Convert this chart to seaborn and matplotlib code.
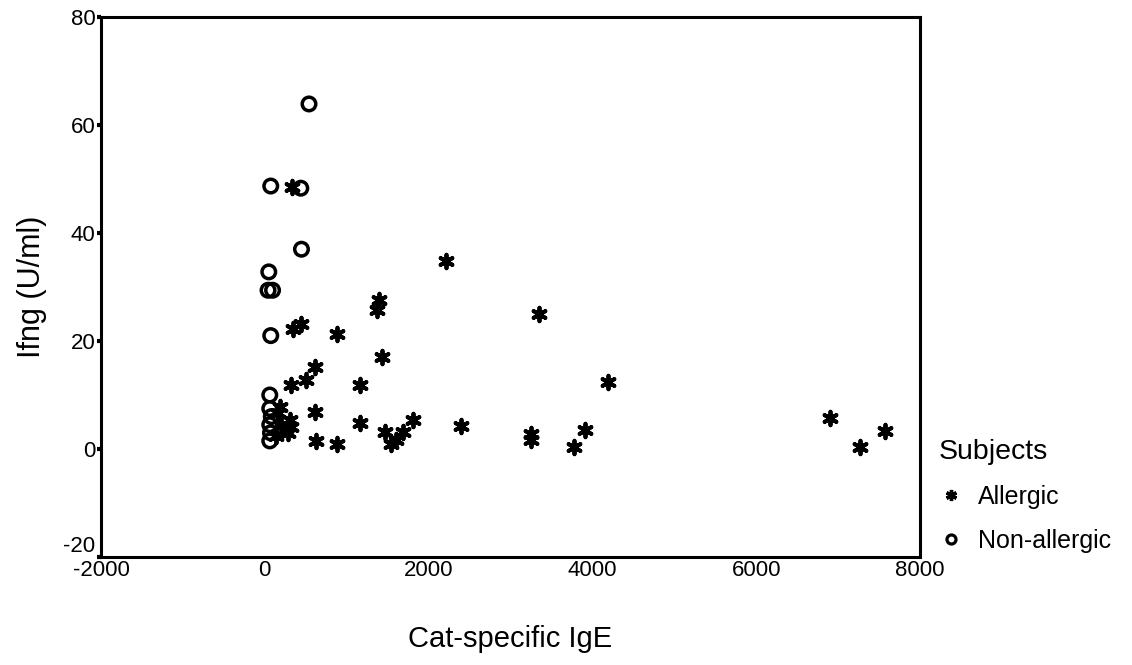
import numpy as np
import pandas as pd
import matplotlib
matplotlib.use("Agg")
import matplotlib.pyplot as plt
import seaborn as sns
from matplotlib.lines import Line2D

allergic_x = [1396, 1371, 440, 342, 887, 1437, 610, 509, 326, 1160, 610, 1168, 631, 887,
              305, 326, 283, 183, 163, 1465, 1547, 1689, 1811, 1608, 2218, 3350, 4192,
              2401, 3256, 3256, 3773, 3907, 6899, 7265, 7579, 338, 140, 200]
allergic_y = [27.6, 25.7, 23.1, 22.2, 21.3, 17.0, 15.1, 12.8, 11.9, 11.9, 6.8, 4.8, 1.4, 1.0,
              5.4, 4.1, 3.0, 7.8, 6.6, 3.2, 1.0, 3.2, 5.4, 1.7, 34.9, 25.0, 12.4,
              4.3, 1.7, 2.8, 0.4, 3.5, 5.7, 0.3, 3.3, 48.5, 2.5, 4.5]
nonallergic_x = [540, 73, 440, 448, 49, 40, 95, 73, 61, 61, 80, 61, 70, 61]
nonallergic_y = [63.9, 48.7, 48.3, 37.0, 32.8, 29.4, 29.4, 21.0, 10.0, 7.5, 6.0, 4.5, 3.0, 1.5]

groups = ["Allergic", "Non-allergic"]
x_ticks = [-2000, 0, 2000, 4000, 6000, 8000]
y_ticks = [-20, 0, 20, 40, 60, 80]

df = pd.DataFrame({
    "IgE": allergic_x + nonallergic_x,
    "Ifng": allergic_y + nonallergic_y,
    "Subjects": [groups[0]] * len(allergic_x) + [groups[1]] * len(nonallergic_x),
})

sns.set_theme(style="white")
plt.rcParams['font.family'] = ['Liberation Sans', 'DejaVu Sans']
plt.rcParams['text.color'] = 'black'
plt.rcParams['axes.labelcolor'] = 'black'
plt.rcParams['xtick.color'] = 'black'
plt.rcParams['ytick.color'] = 'black'

fig = plt.figure(figsize=(11.32, 6.65), dpi=100)
ax = fig.add_axes([0.0892, 0.1624, 0.7235, 0.812])

ast = (6, 2, 0)
sub_a = df[df.Subjects == groups[0]]
sub_n = df[df.Subjects == groups[1]]
sns.scatterplot(data=sub_a, x="IgE", y="Ifng", marker=ast, s=95, color="black",
                edgecolor="black", linewidth=2.8, ax=ax, legend=False, zorder=3)
sns.scatterplot(data=sub_n, x="IgE", y="Ifng", marker="o", s=95, facecolor="none",
                edgecolor="black", linewidth=2.5, ax=ax, legend=False, zorder=3)

ax.set_xlim(-2000, 8000)
ax.set_ylim(-20, 80)
ax.set_xticks(x_ticks)
ax.set_yticks(y_ticks)
ax.set_xticklabels([str(t) for t in x_ticks], fontsize=16)
ylabels = ax.set_yticklabels([str(t) for t in y_ticks], fontsize=16)
ylabels[0].set_verticalalignment("bottom")
ax.tick_params(axis="y", direction="out", length=3, width=3, pad=1, left=True)
ax.tick_params(axis="x", direction="out", length=0, width=0, pad=2, bottom=True)
for sp in ax.spines.values():
    sp.set_visible(True)
    sp.set_color("black")
    sp.set_linewidth(2.2)

ax.set_xlabel("Cat-specific IgE", fontsize=21, labelpad=32)
ax.set_ylabel("Ifng (U/ml)", fontsize=22, labelpad=12)

handles = [
    Line2D([], [], marker=ast, color="black", linestyle="none", markersize=8,
           markeredgewidth=2.4),
    Line2D([], [], marker="o", color="black", markerfacecolor="none",
           linestyle="none", markersize=6.5, markeredgewidth=2.3),
]
leg = fig.legend(handles, groups, title="Subjects", loc="upper left",
                 bbox_to_anchor=(0.8205, 0.355), frameon=False, fontsize=18,
                 title_fontsize=20.5, handletextpad=0.55, labelspacing=0.8,
                 handlelength=1.0, borderaxespad=0)
leg._legend_box.align = "left"

fig.savefig("out.png", dpi=100)
